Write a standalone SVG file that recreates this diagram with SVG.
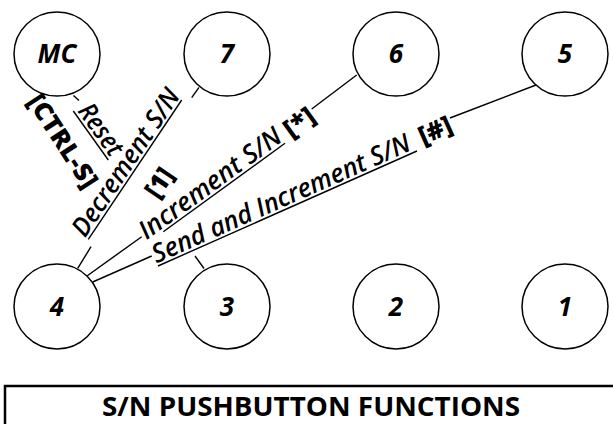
<svg xmlns="http://www.w3.org/2000/svg" width="613" height="424" viewBox="0 0 613 424">
<style>
.node{fill:#fff;stroke:#000;stroke-width:1.5}
.num{font-family:"Open Sans","Liberation Sans",sans-serif;font-weight:bold;font-style:italic;font-size:26px;text-anchor:middle;fill:#000}
.conn line{stroke:#000;stroke-width:1.4}
.lbl{font-family:"Open Sans","Liberation Sans",sans-serif;font-style:italic;font-weight:600;font-size:26px;text-anchor:middle;fill:#000}
.key{font-family:"Open Sans","Liberation Sans",sans-serif;font-weight:800;font-size:25px;text-anchor:middle;fill:#000}
.title{font-family:"Open Sans","Liberation Sans",sans-serif;font-weight:bold;font-size:26px;text-anchor:middle;fill:#000}
</style>
<rect width="613" height="424" fill="#fff"/>
<g id="node-MC"><ellipse class="node" cx="57" cy="54" rx="43" ry="42"/><text class="num" x="57" y="63">MC</text></g>
<g id="node-7"><ellipse class="node" cx="227" cy="54" rx="43" ry="42"/><text class="num" x="227" y="63">7</text></g>
<g id="node-6"><ellipse class="node" cx="396" cy="54" rx="43" ry="42"/><text class="num" x="396" y="63">6</text></g>
<g id="node-5"><ellipse class="node" cx="565" cy="54" rx="43" ry="42"/><text class="num" x="565" y="63">5</text></g>
<g id="node-4"><ellipse class="node" cx="57" cy="306.5" rx="43" ry="42.5"/><text class="num" x="57" y="315.5">4</text></g>
<g id="node-3"><ellipse class="node" cx="227" cy="306.5" rx="43" ry="42.5"/><text class="num" x="227" y="315.5">3</text></g>
<g id="node-2"><ellipse class="node" cx="396" cy="306.5" rx="43" ry="42.5"/><text class="num" x="396" y="315.5">2</text></g>
<g id="node-1"><ellipse class="node" cx="565" cy="306.5" rx="43" ry="42.5"/><text class="num" x="565" y="315.5">1</text></g>
<g id="connectors" class="conn">
<line x1="73.5" y1="95.5" x2="79" y2="100.5"/>
<line x1="73.3" y1="111" x2="108.3" y2="160"/>
<line x1="199" y1="87.3" x2="191.7" y2="97.7"/>
<line x1="181.7" y1="100" x2="88.3" y2="239.3"/>
<line x1="91" y1="246.7" x2="77.7" y2="268.3"/>
<line x1="356.7" y1="75" x2="311.7" y2="109"/>
<line x1="285" y1="143.3" x2="163.3" y2="231.7"/>
<line x1="141.7" y1="236.7" x2="87.3" y2="275.7"/>
<line x1="536" y1="85" x2="450" y2="118"/>
<line x1="417" y1="151" x2="158" y2="266"/>
<line x1="151.7" y1="256" x2="92.7" y2="282"/>
<line x1="204" y1="268.5" x2="195" y2="256"/>
</g>
<g id="labels">
<text class="lbl" transform="translate(90.8,135.5) rotate(54.46)" x="1" y="-3" textLength="58" lengthAdjust="spacingAndGlyphs">Reset</text>
<text class="key" transform="translate(63,141) rotate(57)" x="0" y="9" textLength="106" lengthAdjust="spacingAndGlyphs">[CTRL-S]</text>
<text class="lbl" transform="translate(135,169.7) rotate(-56.1)" x="1" y="-3" textLength="172" lengthAdjust="spacingAndGlyphs">Decrement S/N</text>
<text class="key" transform="translate(159,182.5) rotate(-56)" x="0" y="9" textLength="30" lengthAdjust="spacingAndGlyphs">[1]</text>
<text class="lbl" transform="translate(224.2,187.5) rotate(-36)" x="-9" y="-3" textLength="170" lengthAdjust="spacingAndGlyphs">Increment S/N</text>
<text class="key" transform="translate(299,122) rotate(-36)" x="0" y="9" textLength="32" lengthAdjust="spacingAndGlyphs">[*]</text>
<text class="lbl" transform="translate(287.5,208.5) rotate(-23.94)" x="-2" y="-3" textLength="280" lengthAdjust="spacingAndGlyphs">Send and Increment S/N</text>
<text class="key" transform="translate(435,130) rotate(-24)" x="0" y="9" textLength="34" lengthAdjust="spacingAndGlyphs">[#]</text>
</g>
<g id="legend">
<rect x="5" y="386" width="640" height="80" fill="none" stroke="#000" stroke-width="2.5"/>
<text class="title" x="311" y="416" textLength="418" lengthAdjust="spacingAndGlyphs">S/N PUSHBUTTON FUNCTIONS</text>
</g>
</svg>
